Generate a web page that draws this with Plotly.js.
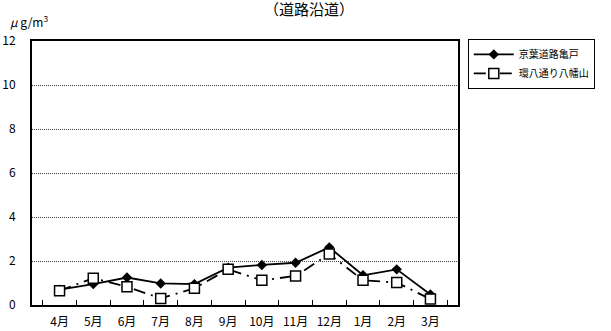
<!DOCTYPE html>
<html><head><meta charset="utf-8">
<script src="https://cdn.plot.ly/plotly-3.0.1.min.js"></script>
<style>body{margin:0;background:#fff}#c{width:611px;height:331px}</style>
</head><body><div id="c"></div>
<script>
const months = ['4月','5月','6月','7月','8月','9月','10月','11月','12月','1月','2月','3月'];
const kameido = [0.7,0.95,1.25,0.98,0.95,1.7,1.82,1.92,2.62,1.35,1.62,0.48];
const yahatayama = [0.65,1.22,0.83,0.3,0.76,1.62,1.12,1.32,2.32,1.12,1.02,0.27];
const yTicks = [0,2,4,6,8,10,12];
const nameA = '京葉道路亀戸';
const nameB = '環八通り八幡山';
const F = '"Noto Sans CJK JP", "Noto Sans", sans-serif';

const traces = [
 {x: months, y: kameido, name: nameA, type:'scatter', mode:'lines+markers',
  line:{color:'#000', width:1.8}, marker:{symbol:'diamond', size:8, color:'#000'}},
 {x: months, y: yahatayama, name: nameB, type:'scatter', mode:'lines+markers',
  line:{color:'#000', width:1.8, dash:'12px,6px,2px,6px'},
  marker:{symbol:'square', size:10, color:'#fff', line:{width:1.5, color:'#000'}}}
];
const layout = {
 width:611, height:331,
 margin:{l:32, r:153, t:41, b:26},
 paper_bgcolor:'#fff', plot_bgcolor:'#fff',
 font:{family:F, size:12, color:'#000'},
 showlegend:true,
 legend:{x:1.023, y:1.008, xanchor:'left', yanchor:'top', bgcolor:'#fff',
   bordercolor:'#000', borderwidth:1, font:{size:10, family:F}, itemwidth:40,
   tracegroupgap:2},
 xaxis:{type:'category', showgrid:false, showline:true, linecolor:'#000', linewidth:2,
   mirror:true, ticks:'inside', tickson:'boundaries', ticklen:5, tickcolor:'#000',
   tickangle:0, ticklabelstandoff:5, tickfont:{size:12, family:F}, zeroline:false},
 yaxis:{range:[0,12], tickvals:yTicks, showgrid:true, gridcolor:'#444', griddash:'1px,1px',
   gridwidth:1, showline:true, linecolor:'#000', linewidth:2, mirror:true, ticks:'',
   ticklabelstandoff:12, zeroline:false, tickfont:{size:12, family:F}},
 annotations:[
  {text:'（道路沿道）', xref:'paper', yref:'paper', x:(309-32)/426, y:(305-8)/264,
   xanchor:'center', yanchor:'middle', showarrow:false, font:{size:15, family:F}},
  {text:'<i>μ</i> g/m<sup>3</sup>', xref:'paper', yref:'paper', x:(8-32)/426, y:(305-21)/264,
   xanchor:'left', yanchor:'middle', showarrow:false, font:{size:12, family:F}}
 ]
};
Plotly.newPlot('c', traces, layout, {staticPlot:true, displayModeBar:false});
</script></body></html>
